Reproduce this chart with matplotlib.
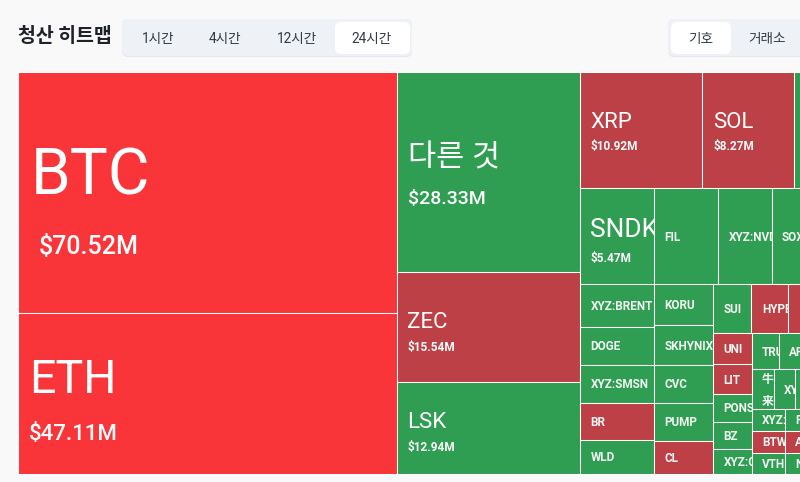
import matplotlib
matplotlib.use("Agg")
import matplotlib.pyplot as plt
from matplotlib.patches import Rectangle, FancyBboxPatch

plt.rcParams["font.family"] = ["Roboto", "Noto Sans CJK KR", "DejaVu Sans"]

title = "청산 히트맵"
time_tabs = ["1시간", "4시간", "12시간", "24시간"]
group_tabs = ["기호", "거래소"]

# liquidation totals in $M, small ones
names_main = ["BTC", "ETH", "다른 것", "ZEC", "LSK"]
values_main = [70.52, 47.11, 28.33, 15.54, 12.94]
names_top = ["XRP", "SOL", "_top"]
values_top = [10.92, 8.27, 6.03]
names_mid = ["SNDK", "FIL", "XYZ:NVDA", "SOX", "_mid"]
values_mid = [5.47, 4.77, 3.95, 3.30, 3.38]
names_col_a = ["XYZ:BRENT", "DOGE", "XYZ:SMSN", "BR", "WLD"]
values_col_a = [2.44, 2.15, 2.15, 2.10, 1.93]
names_col_b = ["KORU", "SKHYNIX", "CVC", "PUMP", "CL"]
values_col_b = [1.88, 1.83, 1.74, 1.74, 1.51]
names_row_c = ["SUI", "HYPE", "_red1", "_c1"]
values_row_c = [1.45, 1.41, 1.37, 1.41]
names_col_d = ["UNI", "LIT", "PONS", "BZ", "XYZ:CRCL"]
values_col_d = [0.91, 0.885, 0.826, 0.797, 0.738]
names_row_e = ["TRUMP", "AP", "_e1"]
values_row_e = [0.755, 0.84, 1.45]
names_row_f = ["牛\n来", "XYZ:TSLA", "_f1"]
values_row_f = [0.683, 0.652, 2.05]
names_col_g = ["XYZ:AMD", "BTW", "VTH"]
values_col_g = [0.564, 0.564, 0.538]
names_col_h = ["R", "A", "N"]
values_col_h = [0.564, 0.564, 0.538]
names_rest = ["_g1"]
values_rest = [2.17]

bright_red = ["BTC", "ETH"]
dark_red = ["ZEC", "XRP", "SOL", "BR", "CL", "HYPE", "_red1", "UNI", "LIT", "BTW", "A"]

value_of = {}
for n, v in [(names_main, values_main), (names_top, values_top), (names_mid, values_mid),
             (names_col_a, values_col_a), (names_col_b, values_col_b), (names_row_c, values_row_c),
             (names_col_d, values_col_d), (names_row_e, values_row_e), (names_row_f, values_row_f),
             (names_col_g, values_col_g), (names_col_h, values_col_h), (names_rest, values_rest)]:
    value_of.update(zip(n, v))

# nesting of the treemap, "h" = side by side, "v" = stacked
tree = ("h", [
    ("v", names_main[:2]),
    ("v", names_main[2:]),
    ("v", [
        ("h", names_top),
        ("h", names_mid),
        ("h", [
            ("v", names_col_a),
            ("v", names_col_b),
            ("v", [
                ("h", names_row_c),
                ("h", [
                    ("v", names_col_d),
                    ("v", [
                        ("h", names_row_e),
                        ("h", names_row_f),
                        ("h", [("v", names_col_g), ("v", names_col_h)] + names_rest),
                    ]),
                ]),
            ]),
        ]),
    ]),
])

# font size (pt), left pad, y of label and of amount relative to the cell top
big_labels = {
    "BTC": (46, 13, 105, 175),
    "ETH": (33.5, 11, 67, 122),
    "다른 것": (22, 11, 86, 127),
    "ZEC": (16, 10, 50, 75),
    "LSK": (16, 10, 40, 65),
    "XRP": (16, 10, 51, 75),
    "SOL": (16, 11, 51, 75),
    "SNDK": (19, 10, 42, 71),
}
amount_size = {"BTC": 18, "ETH": 16, "다른 것": 14}


def total(node):
    if isinstance(node, str):
        return value_of[node]
    return sum(total(c) for c in node[1])


def layout(node, x, y, w, h, out):
    if isinstance(node, str):
        out.append((node, x, y, w, h))
        return
    s = total(node)
    for c in node[1]:
        frac = total(c) / s
        if node[0] == "h":
            layout(c, x, y, w * frac, h, out)
            x += w * frac
        else:
            layout(c, x, y, w, h * frac, out)
            y += h * frac


fig = plt.figure(figsize=(8, 4.82), dpi=100, facecolor="#f9f9fa")
ax = fig.add_axes([0, 0, 1, 1])
ax.set_xlim(0, 800)
ax.set_ylim(482, 0)
ax.axis("off")

cells = []
layout(tree, 17.8, 71.8, 843.8, 402, cells)

for name, x, y, w, h in cells:
    color = "#2f9e52"
    if name in bright_red:
        color = "#fa3539"
    elif name in dark_red:
        color = "#be4047"
    rect = Rectangle((x, y), w, h, facecolor=color, edgecolor="white", linewidth=0.75)
    ax.add_patch(rect)
    if name.startswith("_"):
        continue
    if name in big_labels:
        size, pad, ly, ay = big_labels[name]
        t = ax.text(x + pad, y + ly, name, color="white", fontsize=size, va="center", ha="left", clip_on=True)
        t.set_clip_path(rect)
        amount = "$%.2fM" % value_of[name]
        at = ax.text(x + pad + (8 if name == "BTC" else 0), y + ay, amount, color="white",
                     fontsize=amount_size.get(name, 8.5), fontweight="medium" if name in amount_size else "bold",
                     va="center", ha="left", clip_on=True)
        at.set_clip_path(rect)
    else:
        t = ax.text(x + 10.5, y + h / 2 + 1, name, color="#f2f7f3", fontsize=8.5, fontweight="bold",
                    va="center", ha="left", linespacing=1.9, clip_on=True)
        t.set_clip_path(rect)

# header
ax.text(18, 37, title, fontsize=14, fontweight="bold", color="#1f2329", va="center", ha="left",
        family=["Noto Sans CJK KR", "DejaVu Sans"])


def pill(x0, x1, y0, y1, color, radius=6, zorder=3):
    ax.add_patch(FancyBboxPatch((x0 + radius, y0 + radius), x1 - x0 - 2 * radius, y1 - y0 - 2 * radius,
                                boxstyle="round,pad=%d,rounding_size=%d" % (radius, radius),
                                facecolor=color, edgecolor="none", zorder=zorder))


pill(122, 412, 19, 57, "#e3e6ea")
pill(122, 412, 19, 56, "#eef1f5")
pill(335, 410, 22, 54, "white")
for label, cx in zip(time_tabs, [158, 225, 297, 372]):
    ax.text(cx, 38.5, label, fontsize=9.8, color="#333a45", va="center", ha="center", zorder=4)

pill(668, 830, 19, 57, "#e3e6ea")
pill(668, 830, 19, 56, "#eef1f5")
pill(671, 731, 22, 54, "white")
for label, cx in zip(group_tabs, [701, 767]):
    ax.text(cx, 38.5, label, fontsize=9.8, color="#333a45", va="center", ha="center", zorder=4)

fig.savefig("out.png", dpi=100, facecolor=fig.get_facecolor())
